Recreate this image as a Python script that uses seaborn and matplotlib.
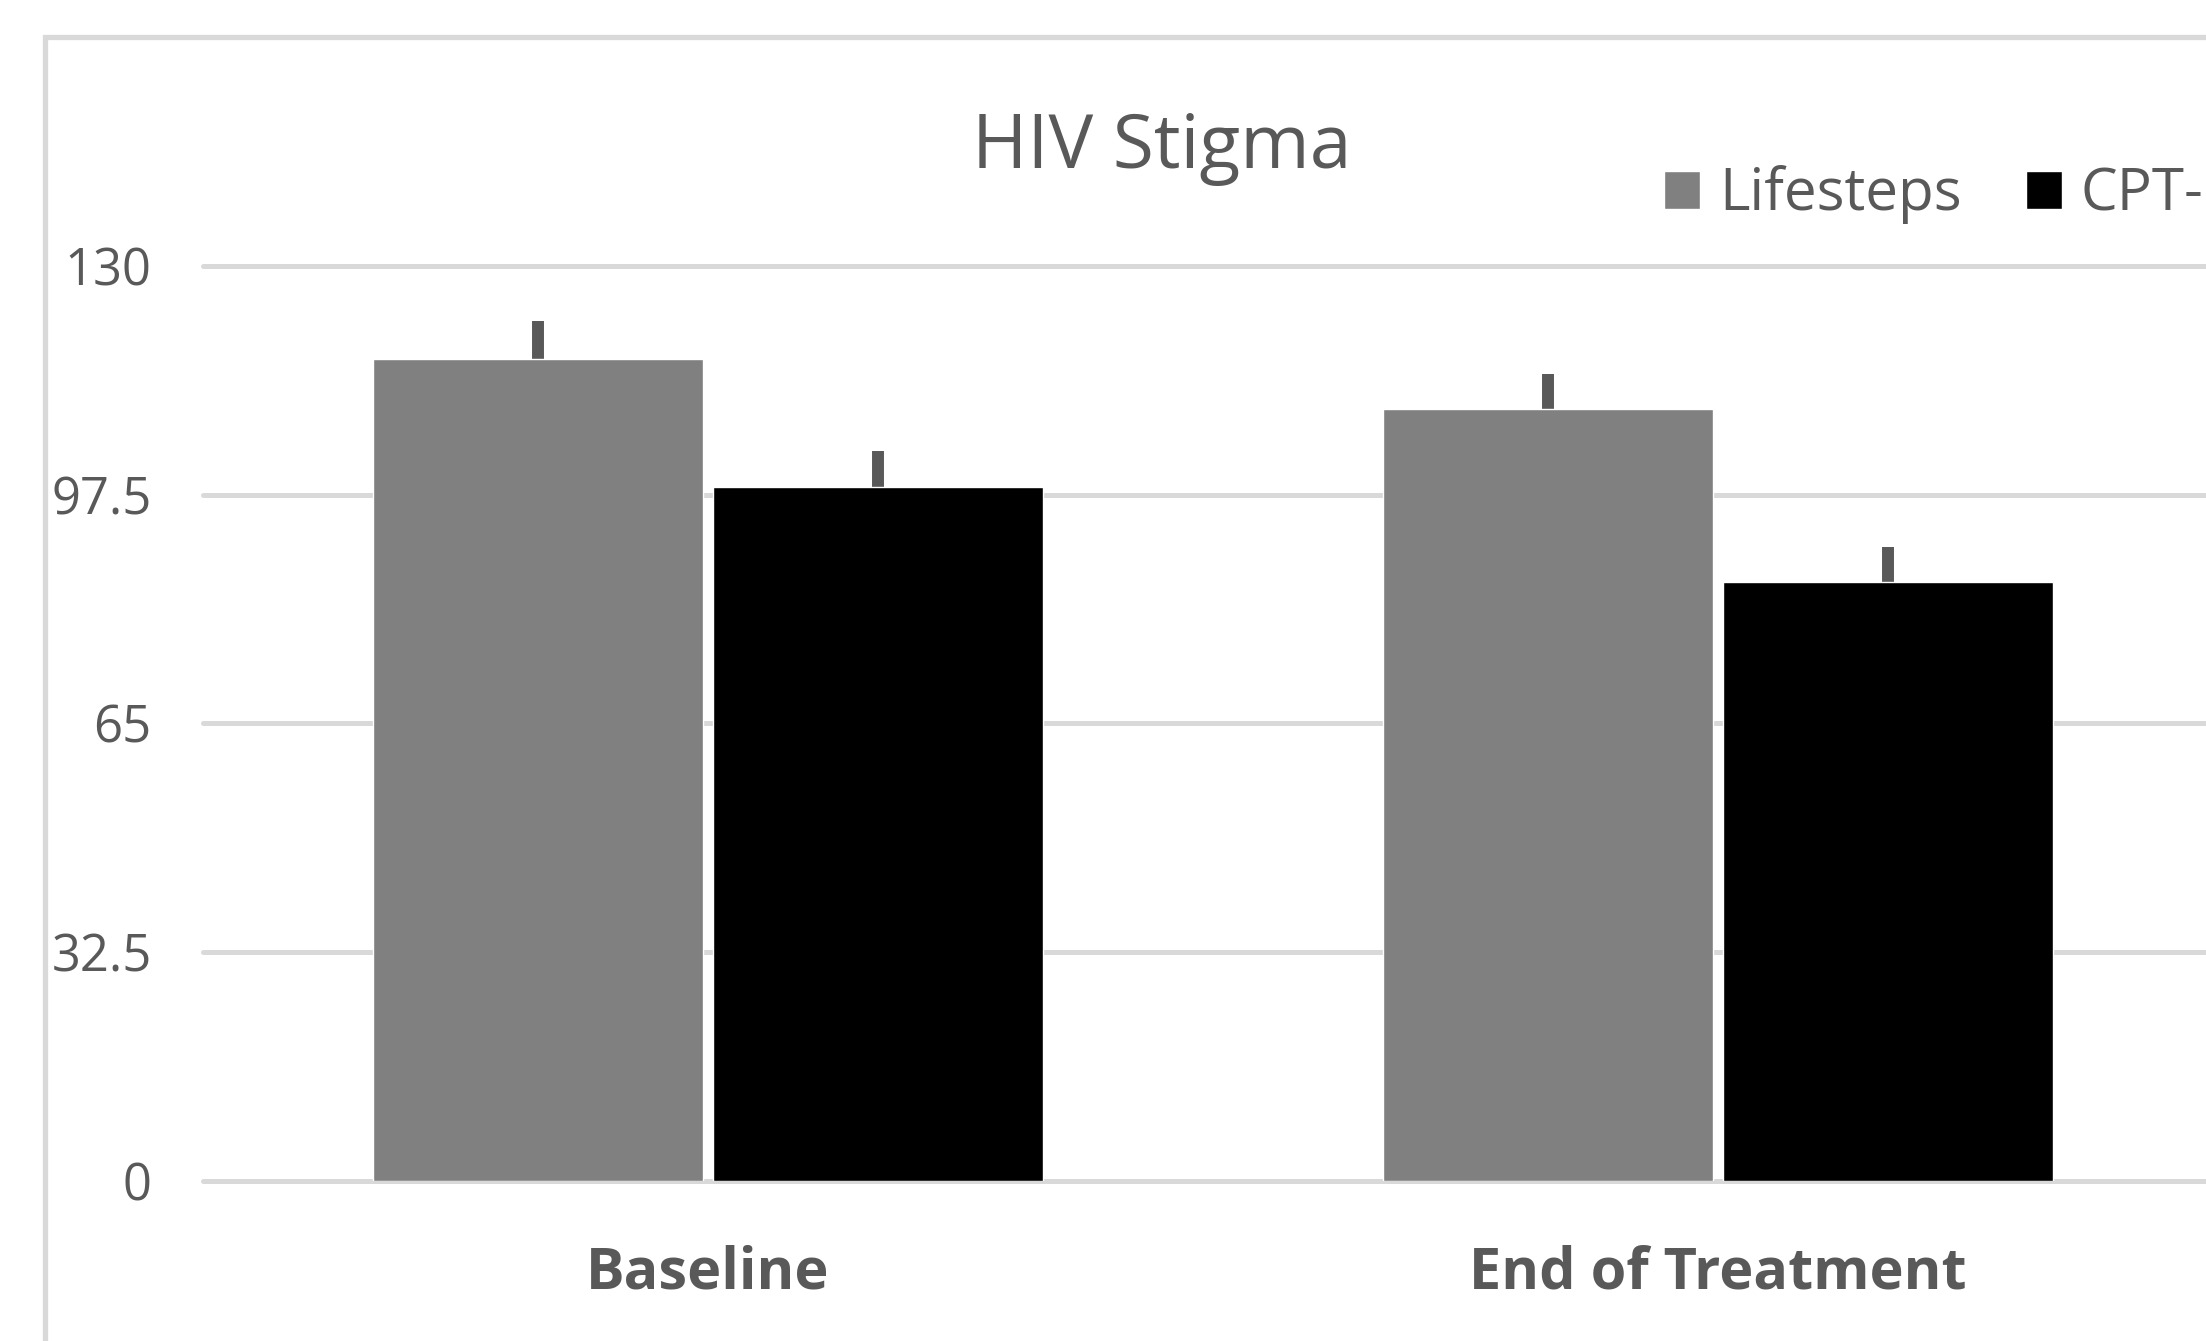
# HIV stigma bar chart: Lifesteps vs CPT at baseline and end of treatment

import numpy as np
import pandas as pd
import matplotlib
matplotlib.use('Agg')
import matplotlib.pyplot as plt
import matplotlib.patches as mpatches
import seaborn as sns

# data
phases = ['Baseline', 'End of Treatment']
groups = ['Lifesteps', 'CPT-R']
lifesteps_mean = [116.7, 109.6]
cpt_mean = [98.6, 85.1]
lifesteps_err = [5.5, 5.0]
cpt_err = [5.1, 5.0]
y_ticks = [0, 32.5, 65, 97.5, 130]
y_tick_labels = ['0', '32.5', '65', '97.5', '130']

df = pd.DataFrame({
    'phase': phases * 2,
    'group': [groups[0]] * 2 + [groups[1]] * 2,
    'score': lifesteps_mean + cpt_mean,
})

sns.set_style('white')
plt.rcParams['font.family'] = ['Open Sans', 'DejaVu Sans']

W, H = 2206, 1341
fig = plt.figure(figsize=(W / 100, H / 100), dpi=100)
ax = fig.add_axes([203 / W, (H - 1181) / H, 2020 / W, 915.3 / H])

sns.barplot(data=df, x='phase', y='score', hue='group', order=phases,
            hue_order=groups, palette=['#808080', '#000000'],
            width=0.673, gap=0.028, errorbar=None, saturation=1,
            ax=ax, zorder=3)

# error bars, upward only
for container, errs in zip(ax.containers, [lifesteps_err, cpt_err]):
    for bar, e in zip(container, errs):
        x = bar.get_x() + bar.get_width() / 2
        h = bar.get_height()
        lc = ax.vlines(x, h, h + e, color='#595959', linewidth=8.6, zorder=2)
        lc.set_capstyle('butt')

ax.set_xlim(-0.5, 1.5)
ax.set_ylim(0, 130)
ax.set_yticks(y_ticks)
ax.set_yticklabels(y_tick_labels)
ax.set_xlabel('')
ax.set_ylabel('')
for s in ax.spines.values():
    s.set_visible(False)

ax.yaxis.grid(True, color='#d9d9d9', linewidth=3.6)
ax.set_axisbelow(True)
for gl in ax.get_ygridlines():
    gl.set_clip_on(False)

ax.tick_params(axis='y', length=0, pad=37, labelsize=36.5, labelcolor='#595959')
ax.tick_params(axis='x', length=0, pad=46, labelsize=41.5, labelcolor='#595959')
for lab in ax.get_xticklabels():
    lab.set_fontweight('bold')

# legend on top right
sns.move_legend(ax, 'center left', bbox_to_anchor=(1664 / W, 1 - 195 / H),
                bbox_transform=fig.transFigure, ncol=2, frameon=False,
                title=None, fontsize=42, handlelength=0.62, handleheight=0.62,
                handletextpad=0.32, columnspacing=1.1, borderpad=0,
                borderaxespad=0)
for t in ax.get_legend().get_texts():
    t.set_color('#595959')

fig.text(1162 / W, 1 - 168 / H, 'HIV Stigma', ha='center', va='baseline',
         fontsize=54, color='#595959')

# chart area border (only left and top edges fall inside the picture)
border = mpatches.Rectangle((45 / W, -0.1), 2, 1 - 36.5 / H + 0.1,
                            transform=fig.transFigure, fill=False,
                            edgecolor='#d9d9d9', linewidth=3.8)
fig.patches.append(border)

plt.savefig('out.png', dpi=100)
